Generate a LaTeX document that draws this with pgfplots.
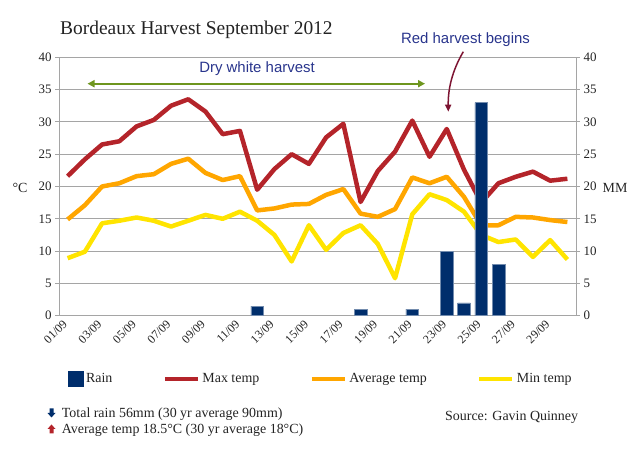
\documentclass[border=0pt]{standalone}
\usepackage{fontspec}
\setmainfont{Liberation Serif}
\newfontfamily\hand{Liberation Sans}
\usepackage{pgfplots}
\usepackage{pgfplotstable}
\pgfplotsset{compat=1.18}
\usetikzlibrary{arrows.meta}
\definecolor{rainblue}{RGB}{0,46,108}
\definecolor{maxred}{RGB}{180,36,42}
\definecolor{avgorange}{RGB}{255,166,0}
\definecolor{minyellow}{RGB}{255,228,0}
\definecolor{gridgray}{RGB}{165,165,165}
\definecolor{annblue}{RGB}{40,52,140}
\definecolor{arrgreen}{RGB}{110,150,30}
\definecolor{arrred}{RGB}{125,20,50}
\definecolor{txt}{RGB}{35,35,35}

\pgfplotstableread{
day max avg min
1 21.6 14.9 8.9
2 24.2 17.1 9.9
3 26.5 20.0 14.3
4 27.0 20.5 14.7
5 29.3 21.6 15.2
6 30.3 21.9 14.7
7 32.5 23.5 13.8
8 33.5 24.3 14.7
9 31.6 22.1 15.6
10 28.1 21.0 15.0
11 28.6 21.6 16.1
12 19.5 16.3 14.7
13 22.7 16.6 12.5
14 25.0 17.2 8.4
15 23.5 17.3 14.0
16 27.6 18.7 10.2
17 29.7 19.6 12.8
18 17.6 15.8 14.0
19 22.4 15.3 11.1
20 25.4 16.5 5.8
21 30.2 21.4 15.7
22 24.6 20.5 18.8
23 28.9 21.5 17.9
24 22.6 18.4 16.1
25 17.5 14.0 12.5
26 20.5 14.0 11.4
27 21.5 15.3 11.8
28 22.3 15.2 9.1
29 20.9 14.8 11.7
30 21.2 14.5 8.7
}\temps

\pgfplotstableread{
day rain
12 1.5
18 1.0
21 1.0
23 10
24 2
25 33
26 8
}\rain

\begin{document}
\begin{tikzpicture}[x=1bp,y=1bp]
\path[use as bounding box] (0,0) rectangle (630,451);
\begin{axis}[
  at={(59bp,135.3bp)}, anchor=south west,
  scale only axis, width=517bp, height=258.4bp,
  xmin=0.5, xmax=30.5, ymin=0, ymax=40,
  axis x line*=bottom, axis y line*=left,
  axis line style={gridgray, line width=0.8bp},
  ytick={0,5,...,40},
  ymajorgrids, grid style={gridgray, line width=0.8bp},
  xtick={1,3,...,29},
  xticklabels={01/09,03/09,05/09,07/09,09/09,11/09,13/09,15/09,17/09,19/09,21/09,23/09,25/09,27/09,29/09},
  minor xtick={0.5,1.5,...,30.5},
  xtick style={draw=none},
  minor x tick style={gridgray, line width=0.8bp},
  ytick style={gridgray, line width=0.8bp},
  tick align=outside, major tick length=4bp, minor tick length=6bp,
  /pgf/number format/assume math mode=true,
  tick label style={font=\fontsize{13}{15}\selectfont, text=txt},
  xticklabel style={rotate=45, anchor=east, font=\fontsize{12}{14}\selectfont},
  legend columns=4,
  legend style={at={(axis description cs:0.0174,-0.245)}, anchor=west,
    draw=none, fill=none, inner sep=0pt, text=txt,
    font=\fontsize{14}{16}\selectfont,
    nodes={inner sep=2.5bp},
    /tikz/every even column/.append style={column sep=48bp}},
]
\addlegendimage{legend image code/.code={\fill[rainblue] (0bp,-7.5bp) rectangle (15bp,7.5bp);}}
\addlegendentry{Rain}
\addplot[maxred, line width=4.5bp, line join=round, mark=none,
  legend image code/.code={\draw[maxred, line width=4bp] (0bp,0bp) -- (33bp,0bp);}]
  table[x=day,y=max] {\temps};
\addlegendentry{Max temp}
\addplot[avgorange, line width=4.5bp, line join=round, mark=none,
  legend image code/.code={\draw[avgorange, line width=4bp] (0bp,0bp) -- (33bp,0bp);}]
  table[x=day,y=avg] {\temps};
\addlegendentry{Average temp}
\addplot[minyellow, line width=4.5bp, line join=round, mark=none,
  legend image code/.code={\draw[minyellow, line width=4bp] (0bp,0bp) -- (33bp,0bp);}]
  table[x=day,y=min] {\temps};
\addlegendentry{Min temp}
\end{axis}

\begin{axis}[
  at={(59bp,135.3bp)}, anchor=south west,
  scale only axis, width=517bp, height=258.4bp,
  xmin=0.5, xmax=30.5, ymin=0, ymax=40,
  axis y line*=right, axis x line=none,
  axis line style={gridgray, line width=0.8bp},
  ytick={0,5,...,40},
  ytick style={gridgray, line width=0.8bp},
  tick align=outside, major tick length=4bp,
  /pgf/number format/assume math mode=true,
  tick label style={font=\fontsize{13}{15}\selectfont, text=txt},
]
\addplot[ybar, bar width=12.7bp, fill=rainblue, draw=rainblue!55!white, line width=0.4bp]
  table[x=day,y=rain] {\rain};
\end{axis}

\node[anchor=base west, text=txt, font=\fontsize{19.5}{23}\selectfont, inner sep=0pt] at (60,416) {Bordeaux Harvest September 2012};
\node[text=txt, font=\fontsize{14}{16}\selectfont] at (20,263) {°C};
\node[text=txt, font=\fontsize{14}{16}\selectfont] at (615,263) {MM};

\node[text=annblue, font=\hand\fontsize{15}{17}\selectfont] at (257,382) {Dry white harvest};
\draw[arrgreen, line width=1.8bp, {Triangle[length=7bp,width=7bp]}-{Triangle[length=7bp,width=7bp]}] (87.5,367.3) -- (425,367.3);
\node[text=annblue, font=\hand\fontsize{15}{17}\selectfont] at (465.5,411) {Red harvest begins};
\draw[arrred, line width=1.5bp, -{Triangle[length=7bp,width=6bp]}] (463.3,399.3) .. controls (452,380) and (448,362) .. (448.3,339.3);

\fill[rainblue] (49.5,42.5) -- (53.5,42.5) -- (53.5,38) -- (55.5,38) -- (51.5,33.5) -- (47.5,38) -- (49.5,38) -- cycle;
\fill[maxred] (49.5,17.5) -- (53.5,17.5) -- (53.5,22) -- (55.5,22) -- (51.5,26.5) -- (47.5,22) -- (49.5,22) -- cycle;
\node[anchor=base west, text=txt, font=\fontsize{14}{16}\selectfont, inner sep=0pt] at (61.7,33.3) {Total rain 56mm (30 yr average 90mm)};
\node[anchor=base west, text=txt, font=\fontsize{14}{16}\selectfont, inner sep=0pt] at (61.7,17.3) {Average temp 18.5°C (30 yr average 18°C)};
\node[anchor=base west, text=txt, font=\fontsize{14}{16}\selectfont, inner sep=0pt] at (445,30) {Source: Gavin Quinney};
\end{tikzpicture}
\end{document}
